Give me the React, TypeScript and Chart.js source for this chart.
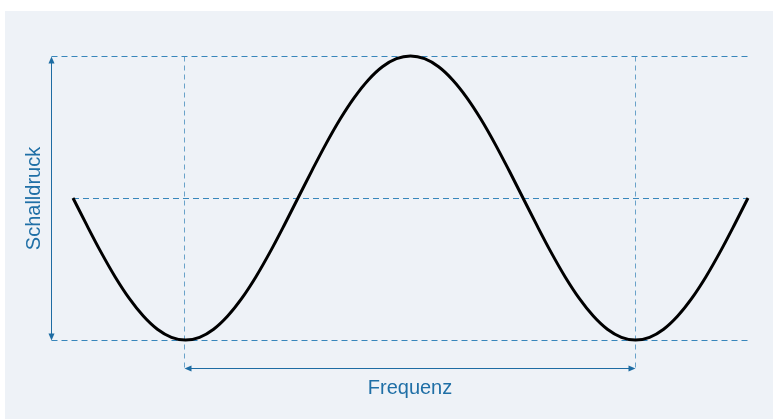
import { useEffect, useRef } from "react";
import { Chart, registerables } from "chart.js";

Chart.register(...registerables);

// Phase along the horizontal axis (degrees) and sound pressure (relative units)
const phaseDeg = [0, 11.25, 22.5, 33.75, 45, 56.25, 67.5, 78.75, 90, 101.25, 112.5, 123.75, 135, 146.25, 157.5, 168.75, 180, 191.25, 202.5, 213.75, 225, 236.25, 247.5, 258.75, 270, 281.25, 292.5, 303.75, 315, 326.25, 337.5, 348.75, 360, 371.25, 382.5, 393.75, 405, 416.25, 427.5, 438.75, 450, 461.25, 472.5, 483.75, 495, 506.25, 517.5, 528.75, 540];
const pressure = [0, -0.195, -0.383, -0.556, -0.707, -0.831, -0.924, -0.981, -1, -0.981, -0.924, -0.831, -0.707, -0.556, -0.383, -0.195, 0, 0.195, 0.383, 0.556, 0.707, 0.831, 0.924, 0.981, 1, 0.981, 0.924, 0.831, 0.707, 0.556, 0.383, 0.195, 0, -0.195, -0.383, -0.556, -0.707, -0.831, -0.924, -0.981, -1, -0.981, -0.924, -0.831, -0.707, -0.556, -0.383, -0.195, 0];
const troughPhases = [90, 450];
const xAxisTitle = "Frequenz";
const yAxisTitle = "Schalldruck";

export default function App() {
  const ref = useRef<HTMLCanvasElement>(null);

  useEffect(() => {
    const canvas = ref.current;
    if (!canvas) return;

    const dashColor = "rgba(36,122,180,0.9)";
    const vDashColor = "rgba(60,135,185,0.75)";
    const arrowColor = "#1d6ca3";
    const textColor = "#1f6fa6";

    const line = (ctx: CanvasRenderingContext2D, x1: number, y1: number, x2: number, y2: number) => {
      ctx.beginPath();
      ctx.moveTo(x1, y1);
      ctx.lineTo(x2, y2);
      ctx.stroke();
    };
    const head = (ctx: CanvasRenderingContext2D, x: number, y: number, dx: number, dy: number) => {
      const len = 7, hw = 3;
      const px = -dy, py = dx;
      ctx.beginPath();
      ctx.moveTo(x, y);
      ctx.lineTo(x - dx * len + px * hw, y - dy * len + py * hw);
      ctx.lineTo(x - dx * len - px * hw, y - dy * len - py * hw);
      ctx.closePath();
      ctx.fill();
    };

    const guides = {
      id: "guides",
      beforeDraw(chart: any) {
        const ctx = chart.ctx as CanvasRenderingContext2D;
        ctx.save();
        ctx.fillStyle = "#eef2f7";
        ctx.fillRect(5, 11, chart.width - 5, chart.height - 11);
        ctx.restore();
      },
      beforeDatasetsDraw(chart: any) {
        const ctx = chart.ctx as CanvasRenderingContext2D;
        const x = chart.scales.x;
        const y = chart.scales.y;
        const r = (v: number) => Math.round(v) + 0.5;
        const yTop = r(y.getPixelForValue(Math.max(...pressure)));
        const yBot = r(y.getPixelForValue(Math.min(...pressure)));
        const yMid = r(y.getPixelForValue(pressure[0]));
        const xStart = x.getPixelForValue(phaseDeg[0]);
        const xEnd = x.getPixelForValue(phaseDeg[phaseDeg.length - 1]);
        const xT1 = r(x.getPixelForValue(troughPhases[0]) - 2);
        const xT2 = r(x.getPixelForValue(troughPhases[1]) - 1);
        const arrowX = r(xStart - 22);
        const arrowY = r(yBot + 27);

        ctx.save();
        ctx.lineWidth = 1;
        ctx.setLineDash([6, 4]);
        ctx.strokeStyle = dashColor;
        line(ctx, arrowX, yTop, xEnd, yTop);
        line(ctx, xStart, yMid, xEnd, yMid);
        line(ctx, arrowX, yBot, xEnd, yBot);
        ctx.setLineDash([5, 4]);
        ctx.strokeStyle = vDashColor;
        line(ctx, xT1, yTop, xT1, arrowY);
        line(ctx, xT2, yTop, xT2, arrowY);

        ctx.setLineDash([]);
        ctx.strokeStyle = arrowColor;
        ctx.fillStyle = arrowColor;
        line(ctx, arrowX, yTop + 2, arrowX, yBot - 2);
        head(ctx, arrowX, yTop, 0, -1);
        head(ctx, arrowX, yBot, 0, 1);
        line(ctx, xT1 + 2, arrowY, xT2 - 2, arrowY);
        head(ctx, xT1, arrowY, -1, 0);
        head(ctx, xT2, arrowY, 1, 0);

        ctx.fillStyle = textColor;
        ctx.font = "20px 'Liberation Sans', Arial, sans-serif";
        ctx.textAlign = "center";
        ctx.textBaseline = "alphabetic";
        ctx.fillText(xAxisTitle, (xT1 + xT2) / 2, arrowY + 25);
        ctx.translate(arrowX - 12, (yTop + yBot) / 2);
        ctx.rotate(-Math.PI / 2);
        ctx.fillText(yAxisTitle, 0, 0);
        ctx.restore();
      },
    };

    const chart = new Chart(canvas, {
      type: "line",
      data: {
        datasets: [
          {
            data: phaseDeg.map((p, i) => ({ x: p, y: pressure[i] })),
            borderColor: "#000000",
            borderWidth: 3,
            pointRadius: 0,
            cubicInterpolationMode: "monotone",
            clip: false as any,
            fill: false,
          },
        ],
      },
      options: {
        responsive: false,
        animation: false,
        layout: { padding: { left: 73, right: 25, top: 56, bottom: 79 } },
        scales: {
          x: { type: "linear", min: 0, max: 540, display: false },
          y: { min: -1, max: 1, display: false },
        },
        plugins: { legend: { display: false }, tooltip: { enabled: false } },
      },
      plugins: [guides],
    });
    return () => chart.destroy();
  }, []);

  return (
    <div style={{ position: "fixed", left: 0, top: 0, width: 773, height: 419, background: "#ffffff" }}>
      <canvas ref={ref} width={773} height={419} style={{ display: "block" }} />
    </div>
  );
}
